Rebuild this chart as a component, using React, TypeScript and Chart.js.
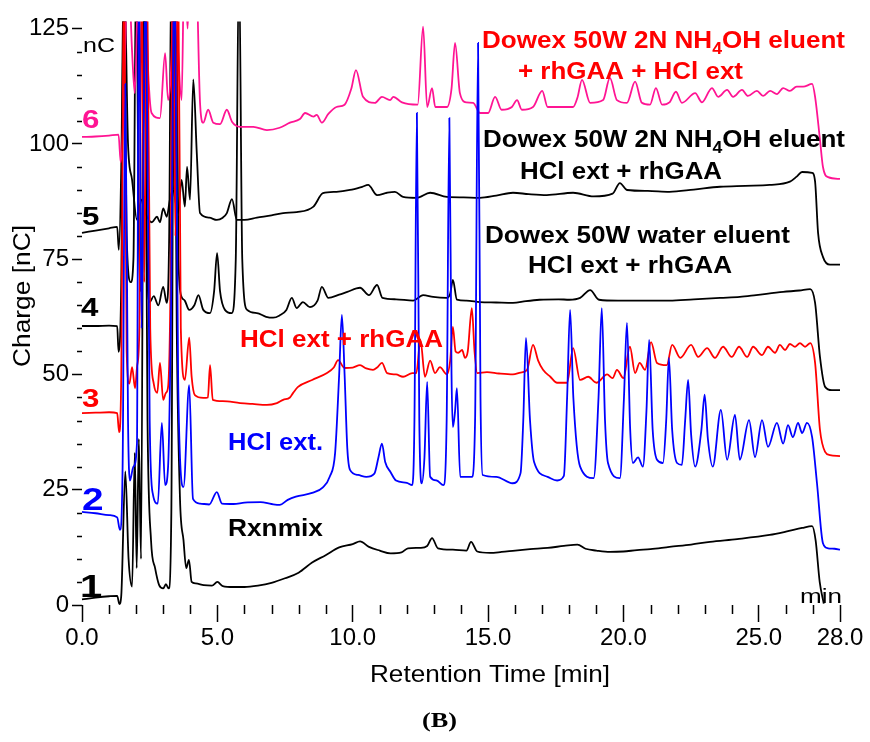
import React, { useEffect, useRef } from "react";
import { Chart, registerables } from "chart.js";

Chart.register(...registerables);

// ---------- data (retention time [min] / charge [nC]) ----------
const rxnT = [0, 0.5, 1.0, 1.3, 1.38, 1.45, 1.6, 1.72, 1.85, 1.95, 2.02, 2.1, 2.18, 2.3, 2.42, 2.55, 2.7, 2.85, 3.0, 3.1, 3.2, 3.3, 3.4, 3.5, 3.62, 3.75, 3.85, 3.95, 4.05, 4.2, 4.5, 4.8, 5.0, 5.2, 5.6, 6.0, 6.5, 7.0, 7.5, 8.0, 8.5, 9.0, 9.5, 10.0, 10.27, 10.6, 11.0, 11.4, 11.8, 12.04, 12.5, 12.75, 12.93, 13.15, 13.7, 14.2, 14.37, 14.6, 15.07, 15.5, 16.0, 16.55, 17.2, 17.8, 18.3, 18.6, 19.0, 19.5, 20.0, 20.5, 21.0, 21.7, 22.5, 23.2, 24.2, 25.4, 26.0, 26.6, 26.97, 27.1, 27.25, 27.4];
const rxnV = [1.2, 1.6, 1.9, 2.0, 0.2, 2, 29, 10, 4, 33, 8, 36, 10, 140, 40, 14, 8, 4.3, 3.6, 4.5, 3.6, 20, 140, 60, 23, 14, 8, 9.8, 5, 4.7, 4.3, 4.2, 5, 4.1, 3.9, 3.9, 4.2, 4.8, 5.8, 7, 9.2, 10.8, 12.5, 13.2, 13.8, 12.6, 11.8, 11.2, 11.4, 12.3, 12.4, 12.8, 14.5, 12.3, 12, 11.8, 13.7, 11.6, 11.3, 11.5, 11.8, 12.1, 12.4, 12.8, 13.1, 12.2, 11.8, 11.5, 11.6, 11.9, 12.1, 12.6, 13.1, 13.7, 14.3, 15.2, 15.9, 16.7, 17.1, 14, 5, 0.3];

const hclT = [0, 0.5, 1.0, 1.3, 1.4, 1.5, 1.6, 1.7, 1.77, 1.9, 2.03, 2.1, 2.2, 2.35, 2.5, 2.62, 2.8, 2.95, 3.07, 3.18, 3.28, 3.42, 3.55, 3.62, 3.75, 3.96, 4.1, 4.36, 4.7, 4.98, 5.17, 5.6, 6.0, 6.6, 7.0, 7.3, 7.6, 7.9, 8.5, 8.9, 9.15, 9.35, 9.5, 9.6, 9.7, 9.8, 9.9, 10.2, 10.5, 10.8, 10.95, 11.08, 11.2, 11.4, 11.6, 12.0, 12.2, 12.28, 12.37, 12.46, 12.55, 12.65, 12.75, 12.86, 13.1, 13.35, 13.47, 13.57, 13.65, 13.7, 13.78, 13.85, 13.97, 14.4, 14.52, 14.63, 14.72, 14.8, 15.3, 15.9, 16.2, 16.3, 16.4, 16.55, 16.7, 17.2, 17.55, 17.8, 17.92, 18.03, 18.15, 18.4, 18.9, 19.08, 19.2, 19.32, 19.43, 19.87, 20.02, 20.13, 20.25, 20.35, 20.54, 20.72, 20.85, 20.95, 21.08, 21.24, 21.46, 21.58, 21.68, 21.8, 21.98, 22.16, 22.28, 22.39, 22.5, 22.65, 22.88, 23.0, 23.12, 23.3, 23.6, 23.83, 24.12, 24.3, 24.64, 24.86, 25.12, 25.34, 25.67, 25.9, 26.08, 26.26, 26.45, 26.6, 26.78, 26.97, 27.15, 27.37, 27.56, 27.8, 28];
const hclV = [20.2, 19.9, 19.5, 19.0, 16.3, 30, 113, 40, 27, 30, 35, 140, 60, 140, 40, 24, 22, 39.5, 26, 30, 60, 140, 50, 32, 25.6, 47.7, 23, 22, 21.8, 24.5, 22, 21.9, 22.2, 22.3, 21.9, 21.7, 22.8, 23.5, 24.3, 25.5, 27.8, 33, 50, 62.9, 50, 34, 29.3, 28.2, 27.8, 28.5, 32, 35, 31, 28.8, 27, 26.5, 26, 40, 106.7, 40, 26.4, 32, 48.4, 27.8, 27, 26, 40, 105.6, 50, 38.6, 42, 47, 27.8, 27.8, 40, 121.9, 45, 28.2, 27.8, 26.4, 28.6, 40, 57.9, 40, 31, 27.8, 27, 28, 45, 64, 45, 30, 27.5, 45, 64.4, 40, 30.8, 27.5, 45, 61.2, 38, 30.8, 32, 30, 42, 57.5, 38, 31.5, 30.8, 40, 53.6, 38, 30.8, 30.4, 40, 48.8, 37, 30, 38, 45.6, 36, 30, 42.3, 31.5, 41.2, 31.5, 40.1, 32.1, 40.1, 34.3, 39.5, 35, 39, 36.4, 39.5, 37.3, 39.5, 36.4, 26.4, 13.4, 12.3, 12.2, 12];

const hclGaaT = [0, 0.5, 1.0, 1.3, 1.37, 1.45, 1.55, 1.65, 1.75, 1.85, 1.96, 2.04, 2.12, 2.2, 2.3, 2.4, 2.52, 2.65, 2.78, 2.88, 3.0, 3.1, 3.18, 3.27, 3.35, 3.45, 3.55, 3.65, 3.8, 3.96, 4.05, 4.17, 4.48, 4.65, 4.73, 4.83, 5.2, 5.84, 6.3, 6.83, 7.2, 7.43, 7.68, 7.8, 7.98, 8.5, 9.05, 9.3, 9.46, 9.7, 10.0, 10.27, 10.5, 10.75, 10.9, 11.08, 11.27, 11.6, 11.86, 12.2, 12.35, 12.5, 12.67, 12.86, 13.04, 13.22, 13.48, 13.6, 13.7, 13.8, 13.9, 14.04, 14.15, 14.25, 14.4, 14.5, 14.6, 14.96, 15.4, 15.92, 16.2, 16.44, 16.66, 16.85, 17.03, 17.3, 17.55, 17.92, 18.14, 18.4, 18.7, 19.0, 19.4, 19.6, 19.76, 20.0, 20.24, 20.43, 20.6, 20.8, 21.02, 21.24, 21.6, 21.8, 22.1, 22.5, 22.76, 23.09, 23.38, 23.68, 24.0, 24.27, 24.57, 24.79, 25.12, 25.34, 25.6, 25.78, 25.97, 26.15, 26.34, 26.52, 26.71, 26.9, 27.08, 27.26, 27.45, 27.63, 28];
const hclGaaV = [41.6, 41.7, 41.8, 41.6, 37.5, 50, 140, 55, 48, 51.6, 47, 52, 60, 140, 70, 140, 60, 48, 46, 52.5, 44.5, 46, 47.3, 70, 140, 80, 140, 60, 48.8, 58, 49.5, 45.5, 44.9, 45, 52, 44.5, 44.2, 43.8, 43.6, 43.4, 43.8, 44.5, 45, 46, 47.3, 48.8, 50.3, 51.5, 53.1, 51.4, 51.5, 52, 51.3, 51, 51.5, 52.5, 50.3, 50, 49.5, 50.3, 50.3, 57.5, 49.5, 53, 50.3, 51.6, 50, 53, 60.3, 55, 54.7, 55.3, 53.6, 55, 64.4, 55, 50.3, 50.5, 50.2, 50, 50.4, 51, 56.4, 53, 51, 49.5, 48.2, 48.2, 55.7, 48.8, 49.5, 48.2, 50, 49.2, 51, 49.2, 56, 50.3, 52.5, 51, 57, 52.5, 52, 56.4, 53.6, 56.4, 53.8, 55.7, 53.6, 56, 53.8, 56, 53.8, 56, 54.2, 56, 54.7, 56.4, 55.3, 56.6, 56, 56.8, 56, 56.8, 52.5, 38, 33.2, 32.5, 32.3];

const waterT = [0, 0.5, 1.0, 1.3, 1.35, 1.45, 1.55, 1.65, 1.8, 1.9, 2.0, 2.1, 2.2, 2.3, 2.4, 2.5, 2.65, 2.82, 3.0, 3.13, 3.22, 3.3, 3.4, 3.48, 3.56, 3.68, 3.8, 3.96, 4.15, 4.3, 4.48, 4.73, 4.88, 4.99, 5.1, 5.28, 5.53, 5.68, 5.8, 5.92, 6.1, 6.46, 6.8, 7.06, 7.3, 7.55, 7.75, 7.93, 8.16, 8.42, 8.7, 8.86, 9.1, 9.5, 9.8, 10.27, 10.6, 10.9, 11.1, 11.6, 12.23, 12.6, 12.97, 13.48, 13.6, 13.7, 13.85, 14.2, 14.7, 15.3, 15.92, 16.4, 16.9, 17.6, 18.0, 18.4, 18.77, 19.1, 19.8, 20.7, 21.7, 22.6, 23.57, 24.3, 24.9, 25.9, 26.5, 26.9, 27.08, 27.26, 27.45, 27.7, 28];
const waterV = [60.5, 60.5, 60.6, 60.5, 54.9, 70, 140, 80, 70, 75, 140, 80, 68, 140, 75, 65.7, 67, 65, 69, 65.5, 80, 140, 90, 140, 75, 66.8, 66, 64, 65, 67.2, 64, 63.3, 68, 76.3, 68, 64, 63.3, 75, 140, 75, 64, 63.3, 62.5, 62.3, 62.8, 64, 66.6, 64.4, 65.7, 64.6, 66, 69, 66.6, 67.3, 67.9, 68.8, 67.2, 69.4, 66.6, 66.3, 66, 67.2, 66.8, 66.6, 67.5, 70.5, 66.2, 66, 65.7, 65.6, 65.5, 65.9, 66.2, 66.3, 66.2, 66.6, 68.3, 66.2, 66, 66, 66, 66.3, 66.6, 66.8, 67.2, 67.9, 68.2, 68.5, 65.5, 53.8, 47.3, 46.6, 46.6];

const nh4T = [0, 0.5, 1.0, 1.3, 1.36, 1.45, 1.55, 1.7, 1.85, 2.03, 2.2, 2.4, 2.58, 2.77, 2.88, 3.0, 3.13, 3.25, 3.36, 3.55, 3.68, 3.8, 3.88, 3.99, 4.11, 4.24, 4.36, 4.7, 4.98, 5.2, 5.35, 5.54, 5.72, 6.0, 6.46, 7.0, 7.43, 7.93, 8.55, 8.9, 9.4, 9.9, 10.35, 10.57, 10.9, 11.27, 11.56, 11.86, 12.37, 12.86, 13.48, 14.1, 14.7, 15.3, 15.92, 16.5, 17.17, 18.14, 18.9, 19.6, 19.87, 20.13, 20.9, 21.7, 22.6, 23.57, 24.5, 25.4, 26.15, 26.4, 26.6, 26.97, 27.08, 27.19, 27.37, 27.63, 28];
const nh4V = [80.7, 81.2, 81.7, 82, 77, 95, 140, 100, 92.2, 83.5, 87.9, 84.2, 83, 84.2, 83, 86, 84.2, 88, 90, 85, 92.2, 86.4, 95, 87.9, 114, 98, 85, 84, 83.5, 84, 85, 88, 83.5, 83.5, 84, 84.5, 85, 85.2, 86.4, 89.3, 89.6, 90, 90.7, 91.1, 88.9, 89.4, 89.6, 88.5, 88.3, 89.4, 88.5, 88.4, 88.3, 88.8, 89.4, 89.1, 88.9, 89.4, 88.6, 89.2, 91.5, 90, 89.8, 89.6, 90.1, 90.7, 90.9, 91.1, 91.8, 92.9, 93.9, 93.7, 91.8, 80.7, 75.5, 73.8, 73.8];

const mixT = [0, 0.5, 1.0, 1.35, 1.43, 1.55, 1.7, 1.85, 1.95, 2.05, 2.15, 2.3, 2.45, 2.57, 2.88, 3.07, 3.18, 3.3, 3.4, 3.55, 3.68, 3.78, 3.9, 4.0, 4.12, 4.2, 4.36, 4.48, 4.66, 4.85, 5.1, 5.35, 5.54, 5.84, 6.33, 6.83, 7.3, 7.68, 8.05, 8.24, 8.55, 8.67, 8.86, 9.1, 9.4, 9.7, 9.95, 10.12, 10.38, 10.82, 11.08, 11.38, 11.5, 11.82, 12.4, 12.6, 12.75, 12.93, 13.05, 13.48, 13.65, 13.78, 13.96, 14.2, 14.45, 14.7, 15.0, 15.26, 15.5, 15.88, 16.07, 16.25, 16.66, 17.0, 17.2, 17.7, 18.14, 18.3, 18.47, 18.77, 19.25, 19.5, 19.76, 20.13, 20.43, 20.68, 20.98, 21.2, 21.43, 21.7, 21.94, 22.16, 22.65, 22.9, 23.27, 23.5, 23.83, 24.05, 24.38, 24.6, 24.93, 25.16, 25.42, 25.67, 25.9, 26.15, 26.4, 26.64, 26.97, 27.08, 27.26, 27.37, 27.56, 28];
const mixV = [101.5, 101.6, 101.8, 102, 96, 110, 140, 120, 111, 130, 140, 140, 115, 106.7, 105.6, 119.7, 109.5, 117.6, 140, 120, 109.5, 140, 125, 140, 130, 140, 108.9, 104.6, 107.4, 104.6, 104.3, 107.4, 104.8, 103.7, 103.7, 103, 103.5, 104.6, 105.4, 106.7, 105.9, 106.3, 104.6, 106.5, 108, 108.5, 112, 116, 110.2, 108.9, 110.2, 109.5, 110.2, 109, 108.5, 125.4, 108, 112.1, 108, 108, 112, 121.9, 111, 109, 108.9, 106.7, 106.7, 110.2, 107.4, 108, 109.5, 107.4, 108, 111.5, 108, 108, 108, 110, 113.9, 108.9, 109.5, 114.3, 109.5, 108.9, 113.5, 108.9, 108.5, 112.1, 108.5, 109, 111.3, 108.9, 111, 109, 112.1, 110.2, 111.7, 110.2, 111.7, 110.4, 111.5, 110.4, 111.5, 110.8, 112.1, 111.5, 112.4, 112.4, 113, 110.2, 100.9, 95, 92.8, 92.4];

const xMajorTicks = [0, 5, 10, 15, 20, 25, 28];
const xMinorTicks = [1, 2, 3, 4, 6, 7, 8, 9, 11, 12, 13, 14, 16, 17, 18, 19, 21, 22, 23, 24, 26, 27];
const yMinorTicks = [5, 10, 15, 20, 30, 35, 40, 45, 55, 60, 65, 70, 80, 85, 90, 95, 105, 110, 115, 120];

const traceNumbers = ["1", "2", "3", "4", "5", "6"];

// ---------- styling ----------
const SANS = 'Arial, "Liberation Sans", sans-serif';
const SERIF = '"Times New Roman", "Liberation Serif", serif';
const BLACK = "#000000";
const BLUE = "#0000ff";
const RED = "#ff0000";
const PINK = "#ff1493";

type Seg = { t: string; sub?: boolean };

function fitText(ctx: CanvasRenderingContext2D, segs: Seg[], left: number, right: number, baseline: number, size: number, weight: string, color: string, family = SANS) {
  const font = (s: number) => `${weight} ${s}px ${family}`;
  let w = 0;
  for (const s of segs) {
    ctx.font = font(s.sub ? size * 0.68 : size);
    w += ctx.measureText(s.t).width;
  }
  const sx = (right - left) / w;
  ctx.save();
  ctx.translate(left, baseline);
  ctx.scale(sx, 1);
  ctx.fillStyle = color;
  ctx.textAlign = "left";
  ctx.textBaseline = "alphabetic";
  let x = 0;
  for (const s of segs) {
    const fs = s.sub ? size * 0.68 : size;
    ctx.font = font(fs);
    ctx.fillText(s.t, x, s.sub ? size * 0.25 : 0);
    x += ctx.measureText(s.t).width;
  }
  ctx.restore();
}

const nh4Segs = (): Seg[] => [{ t: "Dowex 50W 2N NH" }, { t: "4", sub: true }, { t: "OH eluent" }];

const overlayPlugin = {
  id: "overlay",
  afterDraw(chart: any) {
    const ctx: CanvasRenderingContext2D = chart.ctx;
    const xs = chart.scales.x;
    const ys = chart.scales.y;
    ctx.save();
    ctx.strokeStyle = BLACK;
    ctx.lineWidth = 1.5;
    ctx.beginPath();
    for (const m of xMinorTicks) {
      const px = Math.round(xs.getPixelForValue(m)) + 0.5;
      ctx.moveTo(px, xs.top);
      ctx.lineTo(px, xs.top + 9);
    }
    for (const m of yMinorTicks) {
      const py = Math.round(ys.getPixelForValue(m)) + 0.5;
      ctx.moveTo(ys.right - 5, py);
      ctx.lineTo(ys.right, py);
    }
    ctx.stroke();

    // axis titles
    fitText(ctx, [{ t: "Retention Time [min]" }], 370, 610, 682, 24, "normal", BLACK);
    ctx.save();
    ctx.translate(30, 296);
    ctx.rotate(-Math.PI / 2);
    fitText(ctx, [{ t: "Charge [nC]" }], -71, 71, 0, 23, "normal", BLACK);
    ctx.restore();

    // unit markers
    fitText(ctx, [{ t: "nC" }], 83, 115, 52, 21, "normal", BLACK);
    fitText(ctx, [{ t: "min" }], 800, 842, 603, 21, "normal", BLACK);

    // trace labels
    fitText(ctx, nh4Segs(), 482, 845, 48, 23, "bold", RED);
    fitText(ctx, [{ t: "+ rhGAA + HCl ext" }], 518, 743, 79, 23, "bold", RED);
    fitText(ctx, nh4Segs(), 483, 845, 147, 23, "bold", BLACK);
    fitText(ctx, [{ t: "HCl ext + rhGAA" }], 520, 722, 179, 23, "bold", BLACK);
    fitText(ctx, [{ t: "Dowex 50W water eluent" }], 485, 790, 243, 23, "bold", BLACK);
    fitText(ctx, [{ t: "HCl ext + rhGAA" }], 528, 732, 273, 23, "bold", BLACK);
    fitText(ctx, [{ t: "HCl ext + rhGAA" }], 240, 443, 347, 23, "bold", RED);
    fitText(ctx, [{ t: "HCl ext." }], 228, 323, 450, 23, "bold", BLUE);
    fitText(ctx, [{ t: "Rxnmix" }], 228, 323, 536, 23, "bold", BLACK);

    // trace numbers (slightly widened bold digits)
    const numPos: [number, number, number, string][] = [
      [80, 597, 32, BLACK],
      [82, 510, 31, BLUE],
      [82, 407, 25, RED],
      [81, 316, 25, BLACK],
      [82, 225, 25, BLACK],
      [82, 128, 25, PINK],
    ];
    ctx.textAlign = "left";
    ctx.textBaseline = "alphabetic";
    traceNumbers.forEach((n, i) => {
      const [x, y, s, c] = numPos[i];
      ctx.save();
      ctx.translate(x, y);
      ctx.scale(1.25, 1);
      ctx.font = `bold ${s}px ${SANS}`;
      ctx.fillStyle = c;
      ctx.fillText(n, 0, 0);
      ctx.restore();
    });

    // panel letter
    fitText(ctx, [{ t: "(B)" }], 422, 457, 727, 21, "bold", BLACK, SERIF);
    ctx.restore();
  },
};

function pts(t: number[], v: number[]) {
  return t.map((x, i) => ({ x, y: v[i] }));
}

export default function App() {
  const ref = useRef<HTMLCanvasElement | null>(null);
  useEffect(() => {
    if (!ref.current) return;
    Chart.defaults.font.family = SANS;
    const ds = (label: string, t: number[], v: number[], color: string) => ({
      label,
      data: pts(t, v),
      borderColor: color,
      backgroundColor: color,
      borderWidth: 1.8,
      pointRadius: 0,
      cubicInterpolationMode: "monotone",
      fill: false,
      clip: { left: 2, top: 7, right: 2, bottom: 2 },
    });
    const chart = new Chart(ref.current, {
      type: "line",
      data: {
        datasets: [
          ds("HCl ext.", hclT, hclV, BLUE),
          ds("HCl ext + rhGAA", hclGaaT, hclGaaV, RED),
          ds("Dowex 50W 2N NH4OH eluent + rhGAA + HCl ext", mixT, mixV, PINK),
          ds("Dowex 50W water eluent HCl ext + rhGAA", waterT, waterV, BLACK),
          ds("Dowex 50W 2N NH4OH eluent HCl ext + rhGAA", nh4T, nh4V, BLACK),
          ds("Rxnmix", rxnT, rxnV, BLACK),
        ] as any,
      },
      options: {
        animation: false,
        responsive: true,
        maintainAspectRatio: false,
        devicePixelRatio: 1,
        events: [],
        layout: { padding: { top: 28.6, right: 30, left: 0, bottom: 0 } },
        plugins: { legend: { display: false }, tooltip: { enabled: false } },
        scales: {
          x: {
            type: "linear",
            min: 0,
            max: 28,
            border: { display: false },
            grid: { drawOnChartArea: false, drawTicks: true, tickLength: 17, tickColor: BLACK, tickWidth: 1.5 },
            ticks: {
              color: BLACK,
              font: { size: 24, family: SANS },
              padding: 2,
              maxRotation: 0,
              autoSkip: false,
              callback: (v: any) => Number(v).toFixed(1),
            },
            afterBuildTicks: (s: any) => {
              s.ticks = xMajorTicks.map((v) => ({ value: v }));
            },
            afterFit: (s: any) => {
              s.height = 137;
            },
          },
          y: {
            type: "linear",
            min: 0,
            max: 125,
            border: { display: false },
            grid: { drawOnChartArea: false, drawTicks: true, tickLength: 10, tickColor: BLACK, tickWidth: 1.5 },
            ticks: {
              stepSize: 25,
              color: BLACK,
              font: { size: 24, family: SANS },
              padding: 3,
            },
            afterFit: (s: any) => {
              s.width = 82;
            },
          },
        },
      } as any,
      plugins: [overlayPlugin],
    });
    return () => chart.destroy();
  }, []);
  return (
    <div style={{ position: "absolute", left: 0, top: 0, width: 870, height: 742, background: "#ffffff" }}>
      <canvas ref={ref} />
    </div>
  );
}
